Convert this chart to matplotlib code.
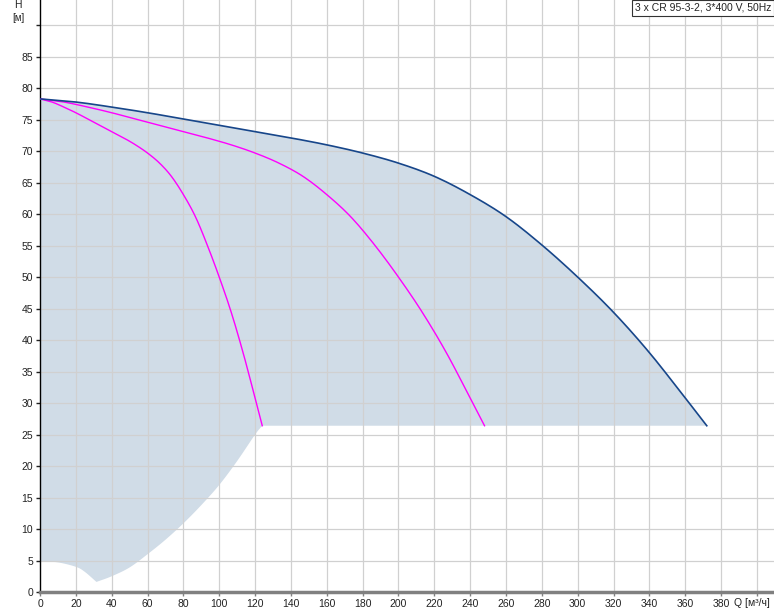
import matplotlib.pyplot as plt
import numpy as np

# pump curves (Q in m3/h, H in m)
q_three = [0, 20, 40, 60, 80, 100, 120, 140, 160, 180, 200, 220, 240, 260, 280, 300, 320, 340, 360, 372]
h_three = [78.3, 77.8, 77.0, 76.1, 75.1, 74.1, 73.1, 72.1, 71.0, 69.7, 68.1, 66.0, 63.1, 59.6, 55.1, 50.0, 44.4, 38.0, 30.8, 26.4]

q_two = [0, 13.3, 26.7, 40, 53.3, 66.7, 80, 93.3, 106.7, 120, 133.3, 146.7, 160, 173.3, 186.7, 200, 213.3, 226.7, 240, 248]
h_two = [78.3, 77.8, 77.0, 76.1, 75.1, 74.1, 73.1, 72.1, 71.0, 69.7, 68.1, 66.0, 63.1, 59.6, 55.1, 50.0, 44.4, 38.0, 30.8, 26.4]

q_one = [0, 6.7, 13.3, 20, 26.7, 33.3, 40, 46.7, 53.3, 60, 66.7, 73.3, 80, 86.7, 93.3, 100, 106.7, 113.3, 120, 124]
h_one = [78.3, 77.8, 77.0, 76.1, 75.1, 74.1, 73.1, 72.1, 71.0, 69.7, 68.1, 66.0, 63.1, 59.6, 55.1, 50.0, 44.4, 38.0, 30.8, 26.4]

# lower edge of the operating area
q_low = [0, 10, 20, 25, 31.5, 40, 50, 60, 70, 80, 90, 100, 110, 120, 124]
h_low = [4.9, 4.7, 4.0, 3.2, 1.6, 2.5, 3.9, 6.0, 8.3, 10.9, 13.8, 17.0, 20.8, 25.0, 26.4]
h_min = 26.4

title = "3 x CR 95-3-2, 3*400 V, 50Hz"


def smooth(xs, ys, n=12):
    # catmull-rom through the read points, only for drawing
    p = np.column_stack([xs, ys]).astype(float)
    p = np.vstack([2 * p[0] - p[1], p, 2 * p[-1] - p[-2]])
    out = []
    t = np.linspace(0, 1, n, endpoint=False)[:, None]
    for i in range(1, len(p) - 2):
        p0, p1, p2, p3 = p[i - 1], p[i], p[i + 1], p[i + 2]
        seg = 0.5 * ((2 * p1) + (-p0 + p2) * t + (2 * p0 - 5 * p1 + 4 * p2 - p3) * t ** 2
                     + (-p0 + 3 * p1 - 3 * p2 + p3) * t ** 3)
        out.append(seg)
    out.append(p[-2][None, :])
    out = np.vstack(out)
    return list(out[:, 0]), list(out[:, 1])


plt.rcParams['font.family'] = ['Liberation Sans', 'DejaVu Sans']

fig = plt.figure(figsize=(7.74, 6.11), dpi=100)
ax = fig.add_axes([40 / 774, 19 / 611, 734 / 774, 592 / 611])
ax.set_xlim(0, 409.5)
ax.set_ylim(0, 94)

sq3, sh3 = smooth(q_three, h_three)
sq2, sh2 = smooth(q_two, h_two)
sq1, sh1 = smooth(q_one, h_one)
sql, shl = smooth(q_low[:5], h_low[:5], 6)
sql2, shl2 = smooth(q_low[4:], h_low[4:])

# shaded operating area
poly_q = sq3 + [q_low[-1]] + sql2[::-1] + sql[::-1]
poly_h = sh3 + [h_min] + shl2[::-1] + shl[::-1]
ax.fill(poly_q, poly_h, color='#d0dce7', lw=0, zorder=1)

grid_c = '#d0d0d0'
for x in range(20, 401, 20):
    ax.axvline(x, color=grid_c, lw=0.9, zorder=2)
for y in range(5, 91, 5):
    ax.axhline(y, color=grid_c, lw=0.9, zorder=2)

ax.plot(sq1, sh1, color='#ff00ff', lw=1.0, zorder=3)
ax.plot(sq2, sh2, color='#ff00ff', lw=1.0, zorder=3)
ax.plot(sq3, sh3, color='#17468a', lw=1.2, zorder=4)

ax.set_xticks(range(0, 401, 20))
ax.set_xticklabels([str(v) for v in range(0, 381, 20)] + [''])
ax.set_yticks(range(0, 91, 5))
ax.set_yticklabels([str(v) for v in range(0, 86, 5)] + [''])
ax.tick_params(axis='both', labelsize=7.5, colors='#222222', length=3, width=1, pad=2)
ax.tick_params(axis='x', color='#808080')

for s in ['top', 'right']:
    ax.spines[s].set_visible(False)
ax.spines['left'].set_color('black')
ax.spines['left'].set_linewidth(1)
ax.spines['bottom'].set_color('#808080')
ax.spines['bottom'].set_linewidth(2.5)

fig.text(18 / 774, 1 - 5 / 611, 'H', ha='center', va='center', fontsize=7.5, color='#222222')
fig.text(18 / 774, 1 - 18 / 611, '[м]', ha='center', va='center', fontsize=7, color='#222222')
fig.text(734 / 774, 1 - 603 / 611, 'Q [м³/ч]', ha='left', va='center', fontsize=7.5, color='#222222')

fig.text(771 / 774, 1 - 8 / 611, title, ha='right', va='center', fontsize=7.5, color='#222222',
         bbox=dict(boxstyle='square,pad=0.25', fc='white', ec='#333333', lw=0.8))

fig.savefig('out.png', dpi=100)
